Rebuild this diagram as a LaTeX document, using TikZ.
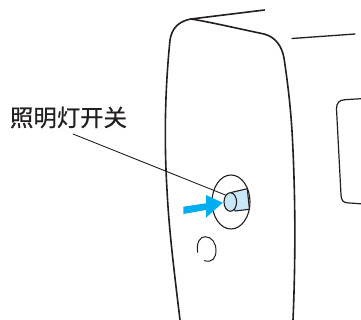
\documentclass[tikz,border=0pt]{standalone}
\usepackage{fontspec}
\usetikzlibrary{shapes.geometric}
\newfontfamily\cjk[FakeBold=0.6]{Noto Sans CJK SC}
\definecolor{arrowblue}{RGB}{0,174,239}
\definecolor{lightblue}{RGB}{200,232,248}
\definecolor{inkc}{RGB}{35,31,32}
\tikzset{
  body/.style={draw=inkc,line width=1.6pt,line cap=round,line join=round},
  thin line/.style={draw=inkc,line width=0.9pt,line cap=round},
  label text/.style={font=\cjk\fontsize{23.4pt}{26pt}\selectfont,text=inkc,inner sep=0pt,anchor=center}
}
\begin{document}
\begin{tikzpicture}[x=1pt,y=-1pt]
\useasboundingbox (0,0) rectangle (361,320);
% housing
\draw[body] (180,320) .. controls (174,270) and (169,230) .. (167,190)
  .. controls (164,140) and (165,90) .. (170,40)
  .. controls (172,27) and (180,21) .. (191,19);
\draw[body] (191,19) -- (264.5,10);
\draw[body] (191,19) .. controls (210,22) and (240,29) .. (264,34)
  .. controls (276,37) and (282,47) .. (284,58)
  .. controls (288,85) and (291,110) .. (292.5,140)
  .. controls (295,190) and (296,250) .. (293,320);
\draw[body,line width=1.3pt] (292,38.5) -- (355,34);
\draw[body,line width=1.2pt] (361,98.7) -- (345,99.7) .. controls (339,100) and (336.5,103) .. (336.5,109)
  -- (341,195) .. controls (341.3,200) and (343,202.5) .. (347,202.8) -- (361,203.8);
% switch
\node[draw=inkc,line width=1.1pt,ellipse,minimum width=38pt,minimum height=54pt,inner sep=0pt] (ring) at (231,202) {};
\path[draw=inkc,line width=1.1pt,fill=lightblue,line join=round] (231,192.5) -- (247.3,188.7) -- (249.4,209.3) -- (235,211) -- cycle;
\node[draw=inkc,line width=1.1pt,fill=lightblue,ellipse,minimum width=12.6pt,minimum height=18.6pt,inner sep=0pt] (knob) at (230.3,202) {};
% label and leader
\node[label text] (lab) at (68.5,117.5) {照明灯开关};
\coordinate (leadstart) at (73,134);
\draw[thin line] (leadstart) -- (knob.north west);
% arrow
\fill[arrowblue] (183.3,206.7) -- (206,203.3) -- (206,195) -- (222.7,202.7) -- (206,217.7) -- (206,210) -- (183.3,214) -- cycle;
% small loop
\draw[thin line,line width=1pt] (197.7,252.3) .. controls (196,243) and (200,236.7) .. (205,236.7)
  .. controls (212,236.7) and (216,243) .. (216,250.7)
  .. controls (216,258) and (212,263) .. (204.3,260.7);
\end{tikzpicture}
\end{document}
